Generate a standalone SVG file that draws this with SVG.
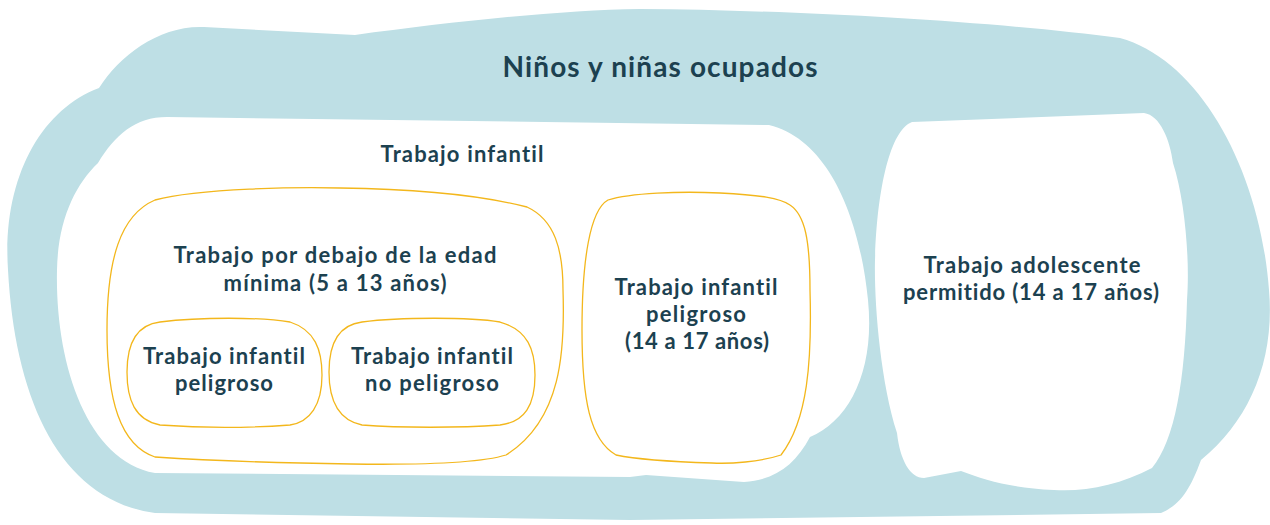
<svg xmlns="http://www.w3.org/2000/svg" width="1270" height="525" viewBox="0 0 1270 525">
<style>
.t{font-family:Lato,"Open Sans","Liberation Sans",sans-serif;font-weight:700;fill:#1C4150;text-anchor:middle;font-size:22px;font-variant-ligatures:none;font-feature-settings:"liga" 0}
.h{font-size:28px}
.y{fill:none;stroke:#F3B71C;stroke-width:1.3}
.w{fill:#FFFFFF}
</style>
<rect width="1270" height="525" fill="#FFFFFF"/>
<g id="ninos-ocupados">
<path fill="#BEDFE5" d="M 99,88 C 120,55 160,25 204,27 L 355,35 C 450,22 560,10 640,9 C 800,10 1000,22 1120,38 C 1200,60 1260,170 1269,290 C 1275,360 1250,420 1201,460 C 1190,490 1180,505 1161,513 L 630,520 L 155,513 C 60,500 15,400 8,270 C 2,180 40,110 99,88 Z"/>
<text class="t h" x="660" y="77" textLength="315" lengthAdjust="spacing">Niños y niñas ocupados</text>
</g>
<g id="trabajo-infantil">
<path class="w" d="M 98,163 C 115,135 135,117 167,117 L 769,125 C 830,140 860,220 868,300 C 875,370 850,420 810,437 C 795,465 775,480 744,482 L 646,475 L 630,477 L 155,473 C 85,460 55,360 57,270 C 58,220 75,185 98,163 Z"/>
<text class="t" x="462" y="162" textLength="163" lengthAdjust="spacing">Trabajo infantil</text>
</g>
<g id="debajo-edad-minima">
<path class="y" d="M 155,200 C 200,188 300,187 340,188 C 420,189 480,195 527,207 C 555,220 563,250 563,290 C 565,350 562,420 506,455 C 480,463 420,465 351,464 C 280,463 200,460 155,457 C 120,445 107,400 107,330 C 107,260 120,215 155,200 Z"/>
<text class="t" x="335" y="263" textLength="323" lengthAdjust="spacing">Trabajo por debajo de la edad</text>
<text class="t" x="335" y="291" textLength="223" lengthAdjust="spacing">mínima (5 a 13 años)</text>
</g>
<g id="infantil-peligroso">
<path class="y" d="M 160,322 C 200,317 260,317 290,322 C 315,330 322,350 322,375 C 322,405 310,422 290,425 C 250,428 200,428 160,425 C 135,420 127,400 127,372 C 127,345 135,325 160,322 Z"/>
<text class="t" x="224" y="364" textLength="162" lengthAdjust="spacing">Trabajo infantil</text>
<text class="t" x="224" y="391" textLength="98" lengthAdjust="spacing">peligroso</text>
</g>
<g id="infantil-no-peligroso">
<path class="y" d="M 362,322 C 400,317 470,317 500,322 C 528,330 535,350 535,375 C 535,405 525,422 500,425 C 460,428 400,428 362,425 C 338,420 329,400 329,372 C 329,345 338,325 362,322 Z"/>
<text class="t" x="432" y="364" textLength="162" lengthAdjust="spacing">Trabajo infantil</text>
<text class="t" x="432" y="391" textLength="134" lengthAdjust="spacing">no peligroso</text>
</g>
<g id="peligroso-14-17">
<path class="y" d="M 608,200 C 630,193 680,191 720,193 C 760,195 780,198 790,205 C 805,215 810,240 810,290 C 812,360 808,420 781,455 C 760,462 730,464 712,463 C 680,462 640,460 616,455 C 590,440 582,400 582,330 C 582,260 590,210 608,200 Z"/>
<text class="t" x="696" y="295" textLength="163" lengthAdjust="spacing">Trabajo infantil</text>
<text class="t" x="696" y="322" textLength="100" lengthAdjust="spacing">peligroso</text>
<text class="t" x="697" y="349" textLength="144" lengthAdjust="spacing">(14 a 17 años)</text>
</g>
<g id="adolescente-permitido">
<path class="w" d="M 912,122 L 1144,113 C 1160,115 1170,140 1173,163 C 1185,200 1190,260 1187,300 C 1185,380 1175,440 1152,468 C 1120,485 1085,492 1054,490 C 1010,488 985,480 961,471 L 924,478 C 910,478 900,460 897,433 C 880,380 874,300 875,260 C 877,190 890,130 912,122 Z"/>
<text class="t" x="1032" y="273" textLength="217" lengthAdjust="spacing">Trabajo adolescente</text>
<text class="t" x="1031" y="300" textLength="256" lengthAdjust="spacing">permitido (14 a 17 años)</text>
</g>
<g id="connectors"/>
</svg>
